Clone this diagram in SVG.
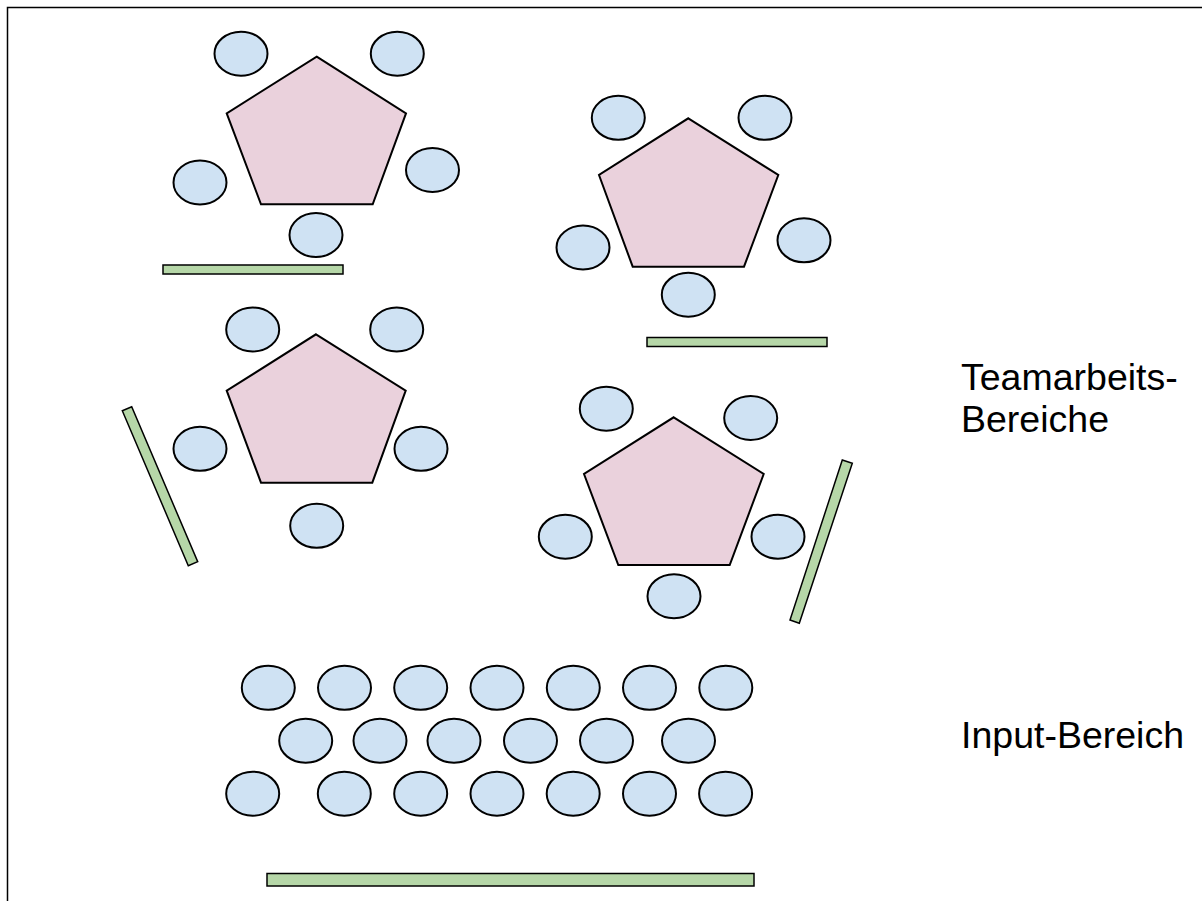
<svg xmlns="http://www.w3.org/2000/svg" width="1202" height="901" viewBox="0 0 1202 901">
<style>
.seat{fill:#cfe2f3;stroke:#000;stroke-width:2}
.table{fill:#ead1dc;stroke:#000;stroke-width:2;stroke-linejoin:miter}
.board{fill:#b6d7a8;stroke:#000;stroke-width:1.5}
.lbl{font-family:"Liberation Sans",Arial,sans-serif;font-size:37.5px;fill:#000}
</style>
<rect x="0" y="0" width="1202" height="901" fill="#fff"/>
<rect id="frame" x="7.5" y="7.5" width="1300" height="1000" fill="none" stroke="#000" stroke-width="1.5"/>

<g id="team1">
<polygon class="table" points="316.7,56.7 406,113.3 372.7,204.3 261,204.3 226.7,113.3"/>
<ellipse class="seat" cx="241" cy="53.7" rx="26.5" ry="22"/>
<ellipse class="seat" cx="397.3" cy="53.7" rx="26.5" ry="22"/>
<ellipse class="seat" cx="200" cy="182.5" rx="26.5" ry="22"/>
<ellipse class="seat" cx="432.5" cy="170" rx="26.5" ry="22"/>
<ellipse class="seat" cx="316" cy="235" rx="26.5" ry="22"/>
<rect class="board" x="163" y="265" width="180" height="9"/>
</g>

<g id="team2">
<polygon class="table" points="688.3,118.3 778.3,175 744,266.7 632.7,266.7 599,175"/>
<ellipse class="seat" cx="618.3" cy="117.8" rx="26.5" ry="22"/>
<ellipse class="seat" cx="765" cy="117.8" rx="26.5" ry="22"/>
<ellipse class="seat" cx="583" cy="247.5" rx="26.5" ry="22"/>
<ellipse class="seat" cx="804" cy="240.3" rx="26.5" ry="22"/>
<ellipse class="seat" cx="688.3" cy="294.7" rx="26.5" ry="22"/>
<rect class="board" x="647" y="337.5" width="180" height="9"/>
</g>

<g id="team3">
<polygon class="table" points="316,334.3 405.7,390.7 372.3,482.7 261,482.7 226.7,390.7"/>
<ellipse class="seat" cx="252.7" cy="329.5" rx="26.5" ry="22"/>
<ellipse class="seat" cx="396.7" cy="329.5" rx="26.5" ry="22"/>
<ellipse class="seat" cx="200" cy="448.8" rx="26.5" ry="22"/>
<ellipse class="seat" cx="421" cy="448.8" rx="26.5" ry="22"/>
<ellipse class="seat" cx="316.7" cy="525.8" rx="26.5" ry="22"/>
<polygon class="board" points="122.3,410.7 131.7,406.7 197.7,561.7 188.3,565.7"/>
</g>

<g id="team4">
<polygon class="table" points="673.7,417.3 763.7,474 729.7,565 618.3,565 584,474"/>
<ellipse class="seat" cx="606.3" cy="408.7" rx="26.5" ry="22"/>
<ellipse class="seat" cx="750.7" cy="418" rx="26.5" ry="22"/>
<ellipse class="seat" cx="565.3" cy="536.7" rx="26.5" ry="22"/>
<ellipse class="seat" cx="778" cy="536.7" rx="26.5" ry="22"/>
<ellipse class="seat" cx="674" cy="596.2" rx="26.5" ry="22"/>
<polygon class="board" points="842.3,460 852.3,463.3 799.3,623.3 790,620"/>
</g>

<g id="input">
<ellipse class="seat" cx="268.3" cy="687.8" rx="26.5" ry="22"/>
<ellipse class="seat" cx="344.5" cy="687.8" rx="26.5" ry="22"/>
<ellipse class="seat" cx="420.7" cy="687.8" rx="26.5" ry="22"/>
<ellipse class="seat" cx="497" cy="687.8" rx="26.5" ry="22"/>
<ellipse class="seat" cx="573.3" cy="687.8" rx="26.5" ry="22"/>
<ellipse class="seat" cx="649.5" cy="687.8" rx="26.5" ry="22"/>
<ellipse class="seat" cx="725.8" cy="687.8" rx="26.5" ry="22"/>
<ellipse class="seat" cx="305.7" cy="740.8" rx="26.5" ry="22"/>
<ellipse class="seat" cx="380" cy="740.8" rx="26.5" ry="22"/>
<ellipse class="seat" cx="454" cy="740.8" rx="26.5" ry="22"/>
<ellipse class="seat" cx="530.5" cy="740.8" rx="26.5" ry="22"/>
<ellipse class="seat" cx="606.5" cy="740.8" rx="26.5" ry="22"/>
<ellipse class="seat" cx="688.5" cy="740.8" rx="26.5" ry="22"/>
<ellipse class="seat" cx="252.7" cy="793.7" rx="26.5" ry="22"/>
<ellipse class="seat" cx="344.3" cy="793.7" rx="26.5" ry="22"/>
<ellipse class="seat" cx="420.7" cy="793.7" rx="26.5" ry="22"/>
<ellipse class="seat" cx="497" cy="793.7" rx="26.5" ry="22"/>
<ellipse class="seat" cx="573.2" cy="793.7" rx="26.5" ry="22"/>
<ellipse class="seat" cx="649.5" cy="793.7" rx="26.5" ry="22"/>
<ellipse class="seat" cx="725.6" cy="793.7" rx="26.5" ry="22"/>
<rect class="board" x="267" y="873.5" width="487" height="12.5"/>
</g>

<g id="label-team">
<text class="lbl" x="961" y="389.5">Teamarbeits-</text>
<text class="lbl" x="961" y="431.5">Bereiche</text>
</g>
<g id="label-input">
<text class="lbl" x="961" y="747.5">Input-Bereich</text>
</g>
<g id="connectors"></g>
</svg>
